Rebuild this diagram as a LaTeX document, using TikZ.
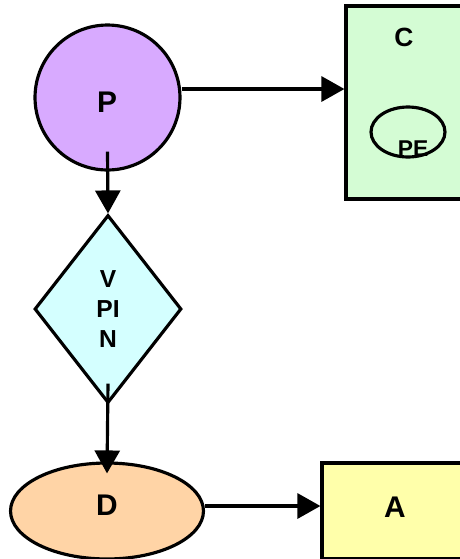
\documentclass[tikz,border=0pt]{standalone}
\usepackage{fontspec}
\setmainfont{Liberation Sans}
\usepackage{tikz}
\usetikzlibrary{shapes,positioning,calc}
\usetikzlibrary{shapes.geometric, arrows}
\usetikzlibrary{arrows.meta}
\definecolor{lilla}{RGB}{216,170,255}
\definecolor{verdino}{RGB}{212,252,212}
\definecolor{azzurro}{RGB}{212,255,255}
\definecolor{pesca}{RGB}{255,212,166}
\definecolor{giallino}{RGB}{255,255,170}
\tikzstyle{testo} = [font=\bfseries\fontsize{17}{19}\selectfont]
\tikzstyle{processo} = [circle, minimum size=2.9cm, draw=black, fill=lilla, line width=1.8pt, testo]
\tikzstyle{contenitore} = [rectangle, draw=black, line width=1.8pt]
\tikzstyle{decisione} = [diamond, minimum width=2.94cm, minimum height=3.76cm, inner sep=0pt, draw=black, fill=azzurro, line width=1.8pt, align=center, font=\bfseries\fontsize{14}{17}\selectfont]
\tikzstyle{dato} = [ellipse, draw=black, line width=1.8pt]
\tikzstyle{freccia} = [line width=1.8pt, -{Triangle[length=0.46cm, width=0.5cm]}]

\begin{document}
\begin{tikzpicture}[x=0.02cm,y=-0.02cm]
						\useasboundingbox (0,0) rectangle (460,559);
						\node (p) at (107.5,97.5) [processo] {};
						\node (pt) at (107,102) [testo] {P};
						\node (c) at (408,102.5) [contenitore, fill=verdino, minimum width=2.48cm, minimum height=3.86cm] {};
						\node (ct) at (404,37) [font=\bfseries\fontsize{15}{17}\selectfont] {C};
						\node (pe) at (408,132) [dato, minimum width=1.48cm, minimum height=1cm] {};
						\node (pet) at (413,149) [font=\bfseries\fontsize{13}{15}\selectfont] {PE};
						\node (v) at (108,309) [decisione] {V\\PI\\N};
						\node (d) at (107,511) [dato, fill=pesca, minimum width=3.86cm, minimum height=1.92cm] {};
						\node (dt) at (107,505) [testo] {D};
						\node (a) at (396,511) [contenitore, fill=giallino, minimum width=2.96cm, minimum height=1.92cm] {};
						\node (at) at (395,507) [testo] {A};
						\draw[freccia] ([yshift=1.7mm]p.east) -- ([yshift=1.7mm]p.east -| c.west);
						\draw[freccia] ([yshift=4mm]p.south) -- (v.north);
						\draw[freccia] ([yshift=4.2mm]v.south) -- ([yshift=-2.4mm]d.north);
						\draw[freccia] ([yshift=1mm]d.east) -- ([yshift=1mm]d.east -| a.west);
					\end{tikzpicture}
\end{document}
